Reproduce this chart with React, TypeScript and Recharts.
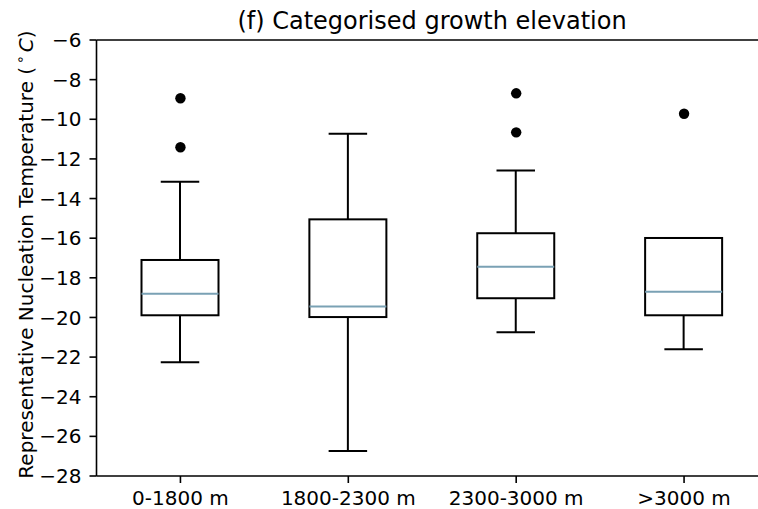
import React from "react";
import { ComposedChart, Bar, Line, XAxis, YAxis, ReferenceLine } from "recharts";

const categories = ["0-1800 m", "1800-2300 m", "2300-3000 m", ">3000 m"];
const whiskerLow = [-22.26, -26.74, -20.75, -21.61];
const q1 = [-19.89, -19.98, -19.03, -19.89];
const median = [-18.8, -19.45, -17.44, -18.7];
const q3 = [-17.1, -15.05, -15.75, -15.99];
const whiskerHigh = [-13.15, -10.73, -12.59, -15.99];
const outlierA = [-8.94, null, -8.69, -9.72];
const outlierB = [-11.41, null, -10.66, null];
const yTicks = [-28, -26, -24, -22, -20, -18, -16, -14, -12, -10, -8, -6];

const data = categories.map((cat, i) => ({
  cat,
  low: whiskerLow[i],
  q1: q1[i],
  med: median[i],
  q3: q3[i],
  high: whiskerHigh[i],
  o1: outlierA[i],
  o2: outlierB[i],
}));

const FONT = "DejaVu Sans";
const MEDIAN_COLOR = "#7aa1b4";

const BoxShape = (props: any) => {
  const { x, y, width, height, payload } = props;
  if (payload == null) return null;
  const { low, high } = payload;
  const pix = (v: number) => y + ((high - v) / (high - low)) * height;
  const cx = x + width / 2;
  const capHalf = width / 4;
  const yq1 = pix(payload.q1);
  const yq3 = pix(payload.q3);
  const ym = pix(payload.med);
  const yl = pix(low);
  const yh = pix(high);
  return (
    <g>
      <line x1={cx} x2={cx} y1={yq3} y2={yh} stroke="#000" strokeWidth={2} />
      <line x1={cx} x2={cx} y1={yq1} y2={yl} stroke="#000" strokeWidth={2} />
      <line x1={cx - capHalf} x2={cx + capHalf} y1={yh} y2={yh} stroke="#000" strokeWidth={2} />
      <line x1={cx - capHalf} x2={cx + capHalf} y1={yl} y2={yl} stroke="#000" strokeWidth={2} />
      <rect x={x} y={yq3} width={width} height={yq1 - yq3} fill="none" stroke="#000" strokeWidth={2} />
      <line x1={x} x2={x + width} y1={ym} y2={ym} stroke={MEDIAN_COLOR} strokeWidth={2} />
    </g>
  );
};

const fmt = (v: number) => String(v).replace("-", "\u2212");

export default function App() {
  return (
    <div style={{ position: "absolute", left: 0, top: 0, width: 758, height: 509, overflow: "hidden", background: "#fff" }}>
      <ComposedChart
        width={780}
        height={509}
        data={data}
        margin={{ top: 40, right: 12, bottom: 0, left: 0 }}
      >
        <XAxis
          dataKey="cat"
          type="category"
          height={33}
          axisLine={{ stroke: "#000", strokeWidth: 1.6 }}
          tickLine={{ stroke: "#000", strokeWidth: 1.6 }}
          tickSize={7}
          tickMargin={8}
          tick={{ fill: "#000", fontSize: 20, fontFamily: FONT }}
          interval={0}
        />
        <YAxis
          type="number"
          domain={[-28, -6]}
          ticks={yTicks}
          width={96.5}
          allowDataOverflow
          axisLine={{ stroke: "#000", strokeWidth: 1.6 }}
          tickLine={{ stroke: "#000", strokeWidth: 1.6 }}
          tickSize={7}
          tickMargin={8}
          tickFormatter={fmt}
          tick={{ fill: "#000", fontSize: 20, fontFamily: FONT }}
        />
        <ReferenceLine y={-6} stroke="#000" strokeWidth={1.6} ifOverflow="extendDomain" />
        <Bar
          dataKey={(d: any) => [d.low, d.high]}
          barSize={77}
          shape={<BoxShape />}
          isAnimationActive={false}
        />
        <Line
          dataKey="o1"
          stroke="none"
          dot={{ r: 5.2, fill: "#000", stroke: "none" }}
          activeDot={false}
          isAnimationActive={false}
        />
        <Line
          dataKey="o2"
          stroke="none"
          dot={{ r: 5.2, fill: "#000", stroke: "none" }}
          activeDot={false}
          isAnimationActive={false}
        />
      </ComposedChart>
      <svg
        width={758}
        height={509}
        style={{ position: "absolute", left: 0, top: 0, pointerEvents: "none" }}
      >
        <text x={432} y={28.5} textAnchor="middle" fontSize={24} fontFamily={FONT} fill="#000">
          (f) Categorised growth elevation
        </text>
        <text
          transform="rotate(-90)"
          x={-254.5}
          y={33}
          textAnchor="middle"
          fontSize={20}
          fontFamily={FONT}
          fill="#000"
        >
          Representative Nucleation Temperature (
          <tspan dx={3} dy={-8} fontSize={14}>{"\u2218"}</tspan>
          <tspan dx={3} dy={8} fontStyle="italic">C</tspan>
          )
        </text>
      </svg>
    </div>
  );
}
